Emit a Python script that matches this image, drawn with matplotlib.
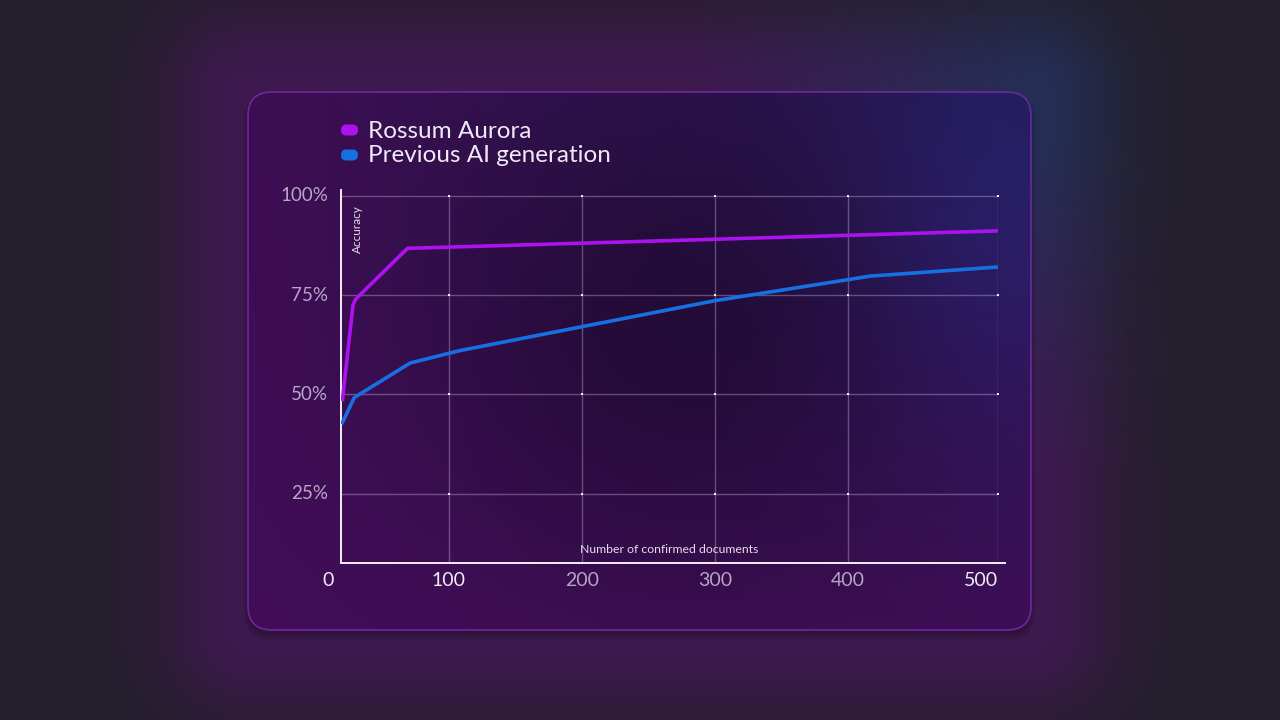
import numpy as np
import matplotlib.pyplot as plt
from matplotlib.patches import FancyBboxPatch
from matplotlib.transforms import blended_transform_factory

# data
series_names = ['Rossum Aurora', 'Previous AI generation']
series_colors = ['#ad12ee', '#1670e4']
docs_aurora = [20, 28, 30, 69, 513]
acc_aurora = [48.3, 72.5, 74.0, 86.8, 91.2]
docs_prev = [19.5, 29, 71, 108, 300, 417, 513]
acc_prev = [42.5, 49.2, 57.9, 61.0, 73.6, 79.8, 82.1]
x_ticks = [0, 100, 200, 300, 400, 500]
x_tick_labels = ['0', '100', '200', '300', '400', '500']
x_tick_colors = ['#f2ecf6', '#f2ecf6', '#b7a4c6', '#b7a4c6', '#b7a4c6', '#f2ecf6']
y_ticks = [25, 50, 75, 100]
y_tick_labels = ['25%', '50%', '75%', '100%']
grid_x = [100, 200, 300, 400, 513]

W, H = 1280, 720
FONT = ['Lato', 'DejaVu Sans']
plt.rcParams['font.family'] = FONT

cx0, cy0, cx1, cy1 = 248, 92, 1031, 630


def glow(xx, yy, cx, cy, rx, ry):
    return np.exp(-(((xx - cx) / rx) ** 2 + ((yy - cy) / ry) ** 2))


def make_background():
    yy, xx = np.mgrid[0:H, 0:W].astype(float)
    img = np.zeros((H, W, 3))
    img[:] = np.array([35, 31, 43]) / 255
    # distance to the card rectangle -> halo hugging the card
    dx = np.maximum(np.maximum(cx0 - xx, xx - cx1), 0)
    dy = np.maximum(np.maximum(cy0 - yy, yy - cy1), 0)
    d = np.hypot(dx, dy)
    halo = np.exp(-(d / 90) ** 2)
    wb = np.clip((xx - 700) / 330, 0, 1) * np.clip((470 - yy) / 330, 0, 1)
    purple = np.array([28, -6, 36]) / 255
    blue = np.array([2, 15, 42]) / 255
    col = (1 - wb)[..., None] * purple + wb[..., None] * blue
    img += halo[..., None] * col
    return np.clip(img, 0, 1)


def make_card(w, h):
    yy, xx = np.mgrid[0:h, 0:w].astype(float)
    u, v = xx / w, yy / h
    tl = np.array([62, 14, 84])
    tr = np.array([36, 26, 82])
    bl = np.array([66, 14, 90])
    br = np.array([62, 14, 86])
    img = ((1 - u) * (1 - v))[..., None] * tl + (u * (1 - v))[..., None] * tr \
        + ((1 - u) * v)[..., None] * bl + (u * v)[..., None] * br
    img = img / 255
    dark = glow(xx, yy, w * 0.55, h * 0.45, w * 0.33, h * 0.45)[..., None]
    img = img * (1 - 0.35 * dark)
    img += glow(xx, yy, w * 0.95, h * 0.25, w * 0.18, h * 0.4)[..., None] * np.array([0, 8, 22]) / 255
    return np.clip(img, 0, 1)


fig = plt.figure(figsize=(12.8, 7.2), dpi=100)
bg = fig.add_axes([0, 0, 1, 1])
bg.imshow(make_background(), extent=[0, W, H, 0], aspect='auto', zorder=0)

# soft shadow under the card
for i in range(6):
    sh = FancyBboxPatch((cx0 - i, cy0 + 5 - i), cx1 - cx0 + 2 * i, cy1 - cy0 + 2 * i,
                        boxstyle='round,pad=0,rounding_size=%d' % (24 + i),
                        facecolor='black', edgecolor='none', alpha=0.035, zorder=1)
    bg.add_patch(sh)
card = FancyBboxPatch((cx0, cy0), cx1 - cx0, cy1 - cy0,
                      boxstyle='round,pad=0,rounding_size=24',
                      facecolor='none', edgecolor='#7b2aa8', linewidth=1.2, alpha=0.85, zorder=3)
bg.add_patch(card)
card_img = bg.imshow(make_card(cx1 - cx0, cy1 - cy0), extent=[cx0, cx1, cy1, cy0],
                     aspect='auto', zorder=2)
card_img.set_clip_path(card)

# legend pills
for i, (name, col) in enumerate(zip(series_names, series_colors)):
    yc = 130 + 25 * i
    pill = FancyBboxPatch((341, yc - 5.5), 17, 11, boxstyle='round,pad=0,rounding_size=5.5',
                          facecolor=col, edgecolor='none', zorder=4)
    bg.add_patch(pill)
    bg.text(368, yc + 1, name, color='#f1eaf6', fontsize=17.5,
            va='center', ha='left', zorder=4)

bg.set_xlim(0, W)
bg.set_ylim(H, 0)
bg.axis('off')

# chart
ax = fig.add_axes([341 / W, 1 - 563 / H, 657 / W, 373 / H])
ax.patch.set_alpha(0)
ax.set_xlim(19, 513)
ax.set_ylim(7.5, 101.5)

grid_kw = dict(color='#d8c8e8', alpha=0.35, linewidth=1, zorder=1)
for gx in grid_x:
    ax.plot([gx, gx], [7.5, 100], **grid_kw)
for gy in y_ticks:
    ax.plot([19, 513], [gy, gy], **grid_kw)
gxx, gyy = np.meshgrid(grid_x, y_ticks)
ax.scatter(gxx.ravel(), gyy.ravel(), s=4, marker='s', color='#f4eefa', zorder=2, linewidths=0)

ax.plot(docs_aurora, acc_aurora, color=series_colors[0], linewidth=2.6, zorder=4,
        solid_joinstyle='round', solid_capstyle='butt')
ax.plot(docs_prev, acc_prev, color=series_colors[1], linewidth=2.6, zorder=4,
        solid_joinstyle='round', solid_capstyle='butt')

for s in ['top', 'right']:
    ax.spines[s].set_visible(False)
for s in ['left', 'bottom']:
    ax.spines[s].set_color('#f4eefa')
    ax.spines[s].set_linewidth(1.4)
ax.spines['bottom'].set_bounds(19, 518)
ax.set_xticks([])
ax.set_yticks([])

ty = blended_transform_factory(ax.transAxes, ax.transData)
for v, lab in zip(y_ticks, y_tick_labels):
    ax.text(-0.02, v, lab, transform=ty, ha='right', va='center',
            color='#b9a6c8', fontsize=13.5)
tx = blended_transform_factory(ax.transData, ax.transAxes)
for v, lab, col in zip(x_ticks, x_tick_labels, x_tick_colors):
    ax.text(v if v else 9, -0.048, lab, transform=tx, ha='center', va='center',
            color=col, fontsize=14, clip_on=False)

ax.text(0.025, 0.96, 'Accuracy', transform=ax.transAxes, rotation=90,
        ha='center', va='top', color='#e6dcee', fontsize=8.5)
ax.text(0.5, 0.035, 'Number of confirmed documents', transform=ax.transAxes,
        ha='center', va='center', color='#e6dcee', fontsize=8.8)

fig.savefig('out.png', dpi=100)
